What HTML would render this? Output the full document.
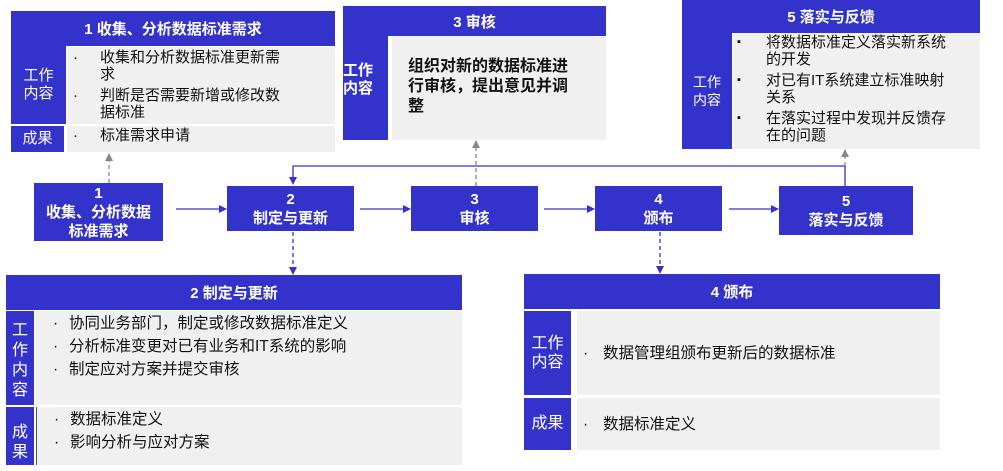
<!DOCTYPE html>
<html><head><meta charset="utf-8"><style>
*{margin:0;padding:0;box-sizing:border-box}
body{width:1003px;height:471px;background:#fff;position:relative;overflow:hidden;font-family:"Liberation Sans","Noto Sans CJK SC",sans-serif}
.b{position:absolute;background:#3333cc;color:#fff}
.g{position:absolute;background:#f0f0f0;color:#111}
.h{font-weight:bold;font-size:15px;display:flex;align-items:center;justify-content:center}
.c{display:flex;align-items:center;justify-content:center;text-align:center;font-size:15px;line-height:18px}
.f{font-weight:bold;font-size:15px;line-height:19px;text-align:center;display:flex;align-items:center;justify-content:center}
.t{font-size:15px;line-height:17px}
.li{position:relative;padding-left:22px}
.li:before{content:"·";position:absolute;left:6px}
.sq:before{content:"▪";position:absolute;left:4px;font-size:11px}
</style></head><body>
<!-- Box 1 -->
<div class="b h" style="left:11px;top:11px;width:324px;height:35px">1 收集、分析数据标准需求</div>
<div class="b c" style="left:11px;top:46px;width:55px;height:78px">工作<br>内容</div>
<div class="g t" style="left:67px;top:47px;width:268px;height:77px;padding:2px 36px 0 0">
<div class="li" style="padding-left:33px;width:220px">收集和分析数据标准更新需求</div>
<div class="li" style="padding-left:33px;width:220px;margin-top:4px">判断是否需要新增或修改数据标准</div></div>
<div class="b c" style="left:11px;top:126px;width:53px;height:26px">成果</div>
<div class="g t" style="left:67px;top:126px;width:268px;height:26px;padding:1px 0 0 0"><div class="li" style="padding-left:33px">标准需求申请</div></div>
<!-- Box 3 -->
<div class="b h" style="left:343px;top:6px;width:263px;height:30px">3 审核</div>
<div class="b c" style="left:343px;top:36px;width:45px;height:104px;font-weight:bold;justify-content:flex-start;padding-bottom:16px">工作<br>内容</div>
<div class="g" style="left:392px;top:36px;width:214px;height:104px;padding:21px 28px 0 16px;font-weight:bold;font-size:16px;line-height:20px">组织对新的数据标准进行审核，提出意见并调整</div>
<!-- Box 5 -->
<div class="b h" style="left:682px;top:0;width:298px;height:33px">5 落实与反馈</div>
<div class="b c" style="left:682px;top:33px;width:50px;height:116px;font-size:14px">工作<br>内容</div>
<div class="g t" style="left:733px;top:33px;width:247px;height:116px;padding:1px 22px 0 0">
<div class="li sq" style="padding-left:33px">将数据标准定义落实新系统的开发</div>
<div class="li sq" style="padding-left:33px;margin-top:4px">对已有IT系统建立标准映射关系</div>
<div class="li sq" style="padding-left:33px;margin-top:4px">在落实过程中发现并反馈存在的问题</div></div>
<!-- flow -->
<div class="b f" style="left:34px;top:183px;width:129px;height:58px">1<br>收集、分析数据<br>标准需求</div>
<div class="b f" style="left:227px;top:186px;width:127px;height:45px">2<br>制定与更新</div>
<div class="b f" style="left:411px;top:186px;width:127px;height:45px">3<br>审核</div>
<div class="b f" style="left:595px;top:186px;width:127px;height:45px">4<br>颁布</div>
<div class="b f" style="left:779px;top:186px;width:134px;height:49px">5<br>落实与反馈</div>
<svg style="position:absolute;left:0;top:0" width="1003" height="471">
<g stroke="#3333cc" stroke-width="1.3" fill="none">
<line x1="176" y1="209" x2="222" y2="209"/><line x1="360" y1="209" x2="406" y2="209"/>
<line x1="544" y1="209" x2="590" y2="209"/><line x1="729" y1="209" x2="774" y2="209"/>
<polyline points="845,186 845,166 293,166 293,180"/>
<line x1="293" y1="232" x2="293" y2="270" stroke-dasharray="4,3"/>
<line x1="660" y1="232" x2="660" y2="269" stroke-dasharray="4,3"/>
</g>
<g fill="#3333cc">
<polygon points="227,209 219,205 219,213"/><polygon points="411,209 403,205 403,213"/>
<polygon points="595,209 587,205 587,213"/><polygon points="779,209 771,205 771,213"/>
<polygon points="293,185 289,177 297,177"/><polygon points="293,275 289,267 297,267"/>
<polygon points="660,274 656,266 664,266"/>
</g>
<g stroke="#888" stroke-width="1.3" stroke-dasharray="4,3">
<line x1="109" y1="183" x2="109" y2="160"/><line x1="476" y1="186" x2="476" y2="147"/><line x1="845" y1="166" x2="845" y2="156"/>
</g>
<g fill="#888"><polygon points="109,153 105,161 113,161"/><polygon points="476,140 472,148 480,148"/><polygon points="845,149 841,157 849,157"/></g>
</svg>
<!-- Box 2 bottom -->
<div class="b h" style="left:6px;top:275px;width:456px;height:35px">2 制定与更新</div>
<div class="b c" style="left:6px;top:311px;width:28px;height:94px;font-size:16px;line-height:20px;padding-top:6px">工<br>作<br>内<br>容</div>
<div class="g t" style="left:35px;top:311px;width:427px;height:94px;padding:1px 0 0 12px;line-height:23px;font-size:15.5px">
<div class="li">协同业务部门，制定或修改数据标准定义</div><div class="li">分析标准变更对已有业务和IT系统的影响</div><div class="li">制定应对方案并提交审核</div></div>
<div class="b c" style="left:6px;top:407px;width:28px;height:58px;font-size:16px;line-height:20px;padding-top:14px">成<br>果</div>
<div class="g t" style="left:36px;top:407px;width:426px;height:58px;padding:1px 0 0 11px;line-height:23px;font-size:15.5px;border-left:1px solid #555">
<div class="li">数据标准定义</div><div class="li">影响分析与应对方案</div></div>
<!-- Box 4 bottom -->
<div class="b h" style="left:524px;top:274px;width:416px;height:35px">4 颁布</div>
<div class="b c" style="left:524px;top:311px;width:47px;height:84px;font-size:16px;line-height:19px">工作<br>内容</div>
<div class="g t" style="left:577px;top:311px;width:363px;height:84px;display:flex;align-items:center;font-size:15.5px"><div class="li" style="padding-left:26px">数据管理组颁布更新后的数据标准</div></div>
<div class="b c" style="left:524px;top:398px;width:47px;height:52px;font-size:16px">成果</div>
<div class="g t" style="left:577px;top:398px;width:363px;height:52px;display:flex;align-items:center;font-size:15.5px"><div class="li" style="padding-left:26px">数据标准定义</div></div>
</body></html>
